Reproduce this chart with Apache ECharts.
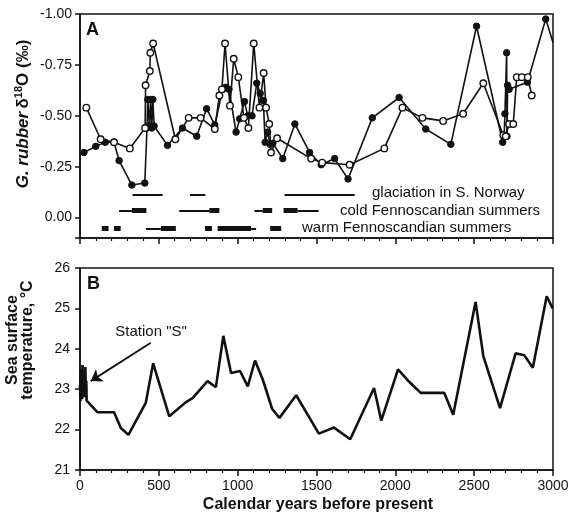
<!DOCTYPE html>
<html>
<head>
<meta charset="utf-8">
<script src="https://cdn.jsdelivr.net/npm/echarts@6/dist/echarts.min.js"></script>
<style>
html,body{margin:0;padding:0;background:#fff;}
#chart{width:575px;height:516px;}
</style>
</head>
<body>
<div id="chart"></div>
<script>
// ---------- Panel A: G. ruber d18O ----------
const filledYears = [25,100,160,216,248,329,411,425,430,440,448,455,462,470,555,650,740,803,855,905,925,945,990,1013,1043,1064,1091,1121,1143,1163,1174,1190,1205,1223,1286,1363,1456,1530,1615,1700,1854,2024,2193,2352,2515,2681,2690,2695,2706,2708,2712,2722,2838,2954,3000];
const filledVals  = [-0.32,-0.35,-0.37,-0.37,-0.28,-0.16,-0.17,-0.44,-0.58,-0.45,-0.58,-0.44,-0.58,-0.45,-0.355,-0.44,-0.40,-0.535,-0.455,-0.63,-0.64,-0.63,-0.42,-0.485,-0.57,-0.50,-0.50,-0.66,-0.61,-0.575,-0.37,-0.42,-0.36,-0.365,-0.29,-0.46,-0.32,-0.26,-0.29,-0.19,-0.49,-0.59,-0.435,-0.36,-0.94,-0.37,-0.40,-0.51,-0.81,-0.40,-0.65,-0.63,-0.665,-0.975,-0.86];

const openYears = [40,131,216,316,413,416,443,446,464,605,689,765,855,884,900,920,951,975,1004,1040,1068,1102,1138,1165,1180,1200,1212,1250,1466,1536,1710,1930,2045,2172,2303,2430,2558,2685,2700,2721,2748,2770,2802,2840,2865];
const openVals  = [-0.54,-0.385,-0.37,-0.34,-0.44,-0.65,-0.72,-0.81,-0.855,-0.385,-0.49,-0.49,-0.435,-0.60,-0.63,-0.855,-0.55,-0.78,-0.69,-0.49,-0.44,-0.855,-0.54,-0.71,-0.54,-0.46,-0.32,-0.39,-0.29,-0.27,-0.26,-0.34,-0.54,-0.49,-0.475,-0.51,-0.66,-0.405,-0.40,-0.46,-0.46,-0.69,-0.69,-0.69,-0.60];

const yTicksA = [-1.00,-0.75,-0.50,-0.25,0.00];

// Event bars (start year, end year)
const glaciationSpans = [[333,524],[697,795],[1297,1742]];
const coldThinSpans   = [[248,329],[629,820],[1106,1159],[1380,1513]];
const coldThickSpans  = [[329,421],[820,884],[1159,1219],[1291,1380]];
const warmThinSpans   = [[418,513],[1085,1117]];
const warmThickSpans  = [[138,181],[216,258],[513,608],[793,837],[873,1085],[1206,1276]];
const glaciationLevel = -0.11, coldLevel = -0.035, warmLevel = 0.053;
const eventLabels = ['glaciation in S. Norway','cold Fennoscandian summers','warm Fennoscandian summers'];

// ---------- Panel B: SST ----------
const sstYears = [0,3,5,8,10,13,16,19,22,25,28,31,34,37,40,42,110,216,259,307,417,464,566,672,714,809,862,909,958,1015,1064,1110,1159,1219,1265,1371,1515,1611,1714,1865,1911,2017,2081,2161,2310,2367,2509,2558,2664,2763,2818,2872,2960,2998];
const sstVals  = [23.1,22.7,23.5,22.8,23.3,22.75,23.6,22.9,23.4,22.8,23.3,22.9,23.55,23.0,23.2,22.72,22.43,22.43,22.04,21.87,22.66,23.64,22.33,22.68,22.78,23.2,23.05,24.32,23.4,23.45,23.07,23.71,23.24,22.51,22.29,22.85,21.90,22.05,21.76,23.03,22.22,23.49,23.21,22.91,22.91,22.37,25.16,23.82,22.53,23.89,23.84,23.53,25.3,25.0];
const stationLabel = 'Station "S"';
const stationArrowFrom = [449, 24.15];
const stationArrowTo = [68, 23.2];
const stationTextAt = [451, 24.41];

const xTicks = [0,500,1000,1500,2000,2500,3000];

const FONT = '"Liberation Sans", Arial, Helvetica, sans-serif';
const INK = '#111';

function zip(a,b){return a.map((v,i)=>[v,b[i]]);}
function spans(list, level){return list.map(s=>({coords:[[s[0],level],[s[1],level]]}));}

const axisLineStyle = {color:INK,width:1.5};
const xEnd = xTicks[xTicks.length-1];

const chart = echarts.init(document.getElementById('chart'),null,{renderer:'canvas'});
const option = {
  animation:false,
  backgroundColor:'#fff',
  textStyle:{fontFamily:FONT},
  grid:[
    {left:80,right:22,top:14,bottom:278,show:true,borderColor:INK,borderWidth:1.5,backgroundColor:'transparent'},
    {left:80,right:22,top:268,bottom:46,show:true,borderColor:INK,borderWidth:1.5,backgroundColor:'transparent'}
  ],
  xAxis:[
    {gridIndex:0,type:'value',min:xTicks[0],max:xEnd,interval:500,
     axisLine:{show:true,onZero:false,lineStyle:axisLineStyle},
     axisTick:{show:true,length:6,lineStyle:axisLineStyle},
     minorTick:{show:true,splitNumber:5,length:3,lineStyle:{color:INK,width:1.2}},
     axisLabel:{show:false},splitLine:{show:false}},
    {gridIndex:1,type:'value',min:xTicks[0],max:xEnd,interval:500,
     axisLine:{show:true,onZero:false,lineStyle:axisLineStyle},
     axisTick:{show:true,length:6,lineStyle:axisLineStyle},
     minorTick:{show:true,splitNumber:5,length:3,lineStyle:{color:INK,width:1.2}},
     axisLabel:{show:true,fontSize:14,color:INK,margin:9,fontFamily:FONT,formatter:function(v){return String(v);}},
     splitLine:{show:false}}
  ],
  yAxis:[
    {gridIndex:0,type:'value',inverse:true,min:yTicksA[0],max:0.1,interval:0.25,
     axisLine:{show:true,onZero:false,lineStyle:axisLineStyle},
     axisTick:{show:true,length:5,lineStyle:axisLineStyle},
     axisLabel:{show:true,fontSize:14,color:INK,margin:8,fontFamily:FONT,
       formatter:function(v){return v>0.05?'':v.toFixed(2);}},
     splitLine:{show:false}},
    {gridIndex:1,type:'value',min:21,max:26,interval:1,
     axisLine:{show:true,onZero:false,lineStyle:axisLineStyle},
     axisTick:{show:true,length:5,lineStyle:axisLineStyle},
     axisLabel:{show:true,fontSize:14,color:INK,margin:10,fontFamily:FONT},
     splitLine:{show:false}}
  ],
  series:[
    {type:'lines',coordinateSystem:'cartesian2d',xAxisIndex:0,yAxisIndex:0,silent:true,
     data:spans(glaciationSpans,glaciationLevel),lineStyle:{color:INK,width:2,opacity:1}},
    {type:'lines',coordinateSystem:'cartesian2d',xAxisIndex:0,yAxisIndex:0,silent:true,
     data:spans(coldThinSpans,coldLevel).concat(spans(warmThinSpans,warmLevel)),lineStyle:{color:INK,width:2,opacity:1}},
    {type:'lines',coordinateSystem:'cartesian2d',xAxisIndex:0,yAxisIndex:0,silent:true,
     data:spans(coldThickSpans,coldLevel).concat(spans(warmThickSpans,warmLevel)),lineStyle:{color:INK,width:5,opacity:1}},
    {type:'line',xAxisIndex:0,yAxisIndex:0,data:zip(filledYears,filledVals),
     symbol:'circle',symbolSize:function(v){return v[0]>=xEnd?0:6.5;},
     itemStyle:{color:INK,borderColor:INK,borderWidth:1},
     lineStyle:{color:INK,width:1.6},z:3},
    {type:'line',xAxisIndex:0,yAxisIndex:0,data:zip(openYears,openVals),
     symbol:'circle',symbolSize:6.5,itemStyle:{color:'#fff',borderColor:INK,borderWidth:1.4},
     lineStyle:{color:INK,width:1.6},z:4},
    {type:'line',xAxisIndex:1,yAxisIndex:1,data:zip(sstYears,sstVals),
     showSymbol:false,symbol:'none',lineStyle:{color:INK,width:2.6},
     markLine:{silent:true,symbol:['none','arrow'],symbolSize:11,
       lineStyle:{type:'solid',color:INK,width:1.8},itemStyle:{color:INK},label:{show:false},
       data:[[{coord:stationArrowFrom},{coord:stationArrowTo}]]},
     markPoint:{silent:true,symbol:'circle',symbolSize:1,itemStyle:{color:'rgba(0,0,0,0)'},
       label:{show:true,position:'inside',formatter:stationLabel,fontSize:15,color:INK,fontFamily:FONT},
       data:[{coord:stationTextAt}]}}
  ],
  graphic:[
    {type:'text',left:86,top:21,style:{text:'A',font:'bold 18px '+FONT,fill:INK}},
    {type:'text',left:87,top:275,style:{text:'B',font:'bold 18px '+FONT,fill:INK}},
    {type:'text',x:372,y:193,style:{text:eventLabels[0],font:'15px '+FONT,fill:INK,verticalAlign:'middle'}},
    {type:'text',x:340,y:211,style:{text:eventLabels[1],font:'15px '+FONT,fill:INK,verticalAlign:'middle'}},
    {type:'text',x:302,y:228,style:{text:eventLabels[2],font:'15px '+FONT,fill:INK,verticalAlign:'middle'}},
    {type:'text',x:23,y:114,rotation:Math.PI/2,
     style:{text:'{i|G. rubber} {n|δ}{s|18}{n|O (‰)}',align:'center',verticalAlign:'middle',fill:INK,
       rich:{i:{fontStyle:'italic',fontWeight:'bold',fontSize:17,fontFamily:FONT,fill:INK,lineHeight:20},
             n:{fontWeight:'bold',fontSize:17,fontFamily:FONT,fill:INK,lineHeight:20},
             s:{fontWeight:'bold',fontSize:11,fontFamily:FONT,fill:INK,verticalAlign:'top',lineHeight:12}}}},
    {type:'text',x:20,y:340,rotation:Math.PI/2,
     style:{text:'Sea surface\ntemperature, °C',align:'center',verticalAlign:'middle',fill:INK,
       font:'bold 16px '+FONT,lineHeight:15}},
    {type:'text',x:318,y:505,style:{text:'Calendar years before present',align:'center',verticalAlign:'middle',
       fill:INK,font:'bold 16px '+FONT}}
  ]
};
chart.setOption(option);
</script>
</body>
</html>
